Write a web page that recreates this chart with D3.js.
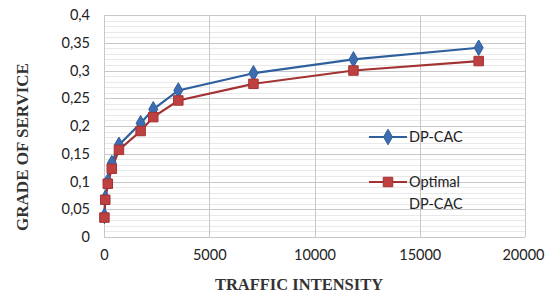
<!DOCTYPE html>
<html>
<head>
<meta charset="utf-8">
<script src="https://cdn.jsdelivr.net/npm/d3@7"></script>
<style>
  body { margin: 0; background: #fff; }
  .tick text { font-family: Lato, "Open Sans", sans-serif; font-size: 14.5px; fill: #222; }
</style>
</head>
<body>
<div id="chart"></div>
<script>
let width = 545;
let height = 298;

// traffic intensity (x) and grade of service (y) per point
let traffic = [20, 60, 180, 370, 710, 1740, 2340, 3530, 7100, 11850, 17800];
let dpCac = [0.038, 0.07, 0.1, 0.133, 0.166, 0.205, 0.23, 0.264, 0.295, 0.32, 0.341];
let optimalDpCac = [0.035, 0.067, 0.096, 0.123, 0.157, 0.191, 0.216, 0.246, 0.276, 0.3, 0.317];

let xTicks = [0, 5000, 10000, 15000, 20000];
let yTicks = [0, 0.05, 0.1, 0.15, 0.2, 0.25, 0.3, 0.35, 0.4];
let yMinor = d3.range(0, 0.4001, 0.01);

let series = [
    { name: "DP-CAC", values: dpCac, color: "#2f5f9c", shape: d3.symbolDiamond },
    { name: "Optimal DP-CAC", values: optimalDpCac, color: "#a33233", shape: d3.symbolSquare }
];

let plot = { left: 104, right: 525, top: 15, bottom: 237 };

let x = d3.scaleLinear().domain([0, 20000]).range([plot.left, plot.right]);
let y = d3.scaleLinear().domain([0, 0.4]).range([plot.bottom, plot.top]);

let svg = d3.select("#chart")
    .append("svg")
    .attr("width", width)
    .attr("height", height);

// minor grid
svg.append("g")
    .selectAll("line")
    .data(yMinor)
    .join("line")
    .attr("x1", plot.left).attr("x2", plot.right)
    .attr("y1", d => Math.round(y(d)) + 0.5).attr("y2", d => Math.round(y(d)) + 0.5)
    .attr("stroke", "#e9e9e9");

// major grid
svg.append("g")
    .selectAll("line")
    .data(yTicks)
    .join("line")
    .attr("x1", plot.left).attr("x2", plot.right)
    .attr("y1", d => Math.round(y(d)) + 0.5).attr("y2", d => Math.round(y(d)) + 0.5)
    .attr("stroke", "#c8c8c8");

svg.append("g")
    .selectAll("line")
    .data(xTicks)
    .join("line")
    .attr("y1", plot.top).attr("y2", plot.bottom)
    .attr("x1", d => Math.round(x(d)) + 0.5).attr("x2", d => Math.round(x(d)) + 0.5)
    .attr("stroke", "#c8c8c8");

let fmt = d => d3.format("~g")(d).replace(".", ",");

// axes (labels only)
let yAxis = svg.append("g")
    .attr("transform", `translate(${plot.left},0)`)
    .call(d3.axisLeft(y).tickValues(yTicks).tickFormat(fmt).tickSize(0).tickPadding(14));
yAxis.select(".domain").remove();

let xAxis = svg.append("g")
    .attr("transform", `translate(0,${plot.bottom})`)
    .call(d3.axisBottom(x).tickValues(xTicks).tickFormat(d3.format("d")).tickSize(0).tickPadding(13));
xAxis.select(".domain").remove();
// last label is pulled inside the picture, as in the original
xAxis.selectAll(".tick text").filter(d => d === 20000)
    .attr("text-anchor", "end")
    .attr("dx", 19);

// lines and markers
let line = d3.line()
    .x((d, i) => x(traffic[i]))
    .y(d => y(d));

series.forEach(s => {
    svg.append("path")
        .datum(s.values)
        .attr("fill", "none")
        .attr("stroke", s.color)
        .attr("stroke-width", 2.2)
        .attr("d", line);
});

series.forEach(s => {
    svg.append("g")
        .selectAll("path")
        .data(s.values)
        .join("path")
        .attr("transform", (d, i) => `translate(${x(traffic[i])},${y(d)})`)
        .attr("d", d3.symbol().type(s.shape).size(s.shape === d3.symbolSquare ? 90 : 70))
        .attr("fill", s.shape === d3.symbolSquare ? "#bf4040" : "#3d6db0")
        .attr("stroke", s.color)
        .attr("stroke-width", 1);
});

// legend
let legend = svg.append("g").style("font-family", "Lato, 'Open Sans', sans-serif").style("font-size", "14.5px");
let legendRows = [{ s: series[0], y: 137, lines: ["DP-CAC"] }, { s: series[1], y: 182, lines: ["Optimal", "DP-CAC"] }];
legendRows.forEach(r => {
    legend.append("line")
        .attr("x1", 369).attr("x2", 407)
        .attr("y1", r.y).attr("y2", r.y)
        .attr("stroke", r.s.color).attr("stroke-width", 2.2);
    legend.append("path")
        .attr("transform", `translate(388,${r.y})`)
        .attr("d", d3.symbol().type(r.s.shape).size(r.s.shape === d3.symbolSquare ? 90 : 70))
        .attr("fill", r.s.shape === d3.symbolSquare ? "#bf4040" : "#3d6db0")
        .attr("stroke", r.s.color);
    r.lines.forEach((t, k) => {
        legend.append("text")
            .attr("x", 409)
            .attr("y", r.y + 5 + k * 22)
            .attr("fill", "#222")
            .text(t);
    });
});

// titles
svg.append("text")
    .attr("transform", "translate(28,147) rotate(-90)")
    .attr("text-anchor", "middle")
    .style("font-family", "'Liberation Serif', 'DejaVu Serif', serif")
    .style("font-weight", "bold")
    .style("font-size", "17px")
    .attr("fill", "#333")
    .text("GRADE OF SERVICE");

svg.append("text")
    .attr("x", 299)
    .attr("y", 290)
    .attr("text-anchor", "middle")
    .style("font-family", "'Liberation Serif', 'DejaVu Serif', serif")
    .style("font-weight", "bold")
    .style("font-size", "16.5px")
    .attr("fill", "#333")
    .text("TRAFFIC INTENSITY");
</script>
</body>
</html>
